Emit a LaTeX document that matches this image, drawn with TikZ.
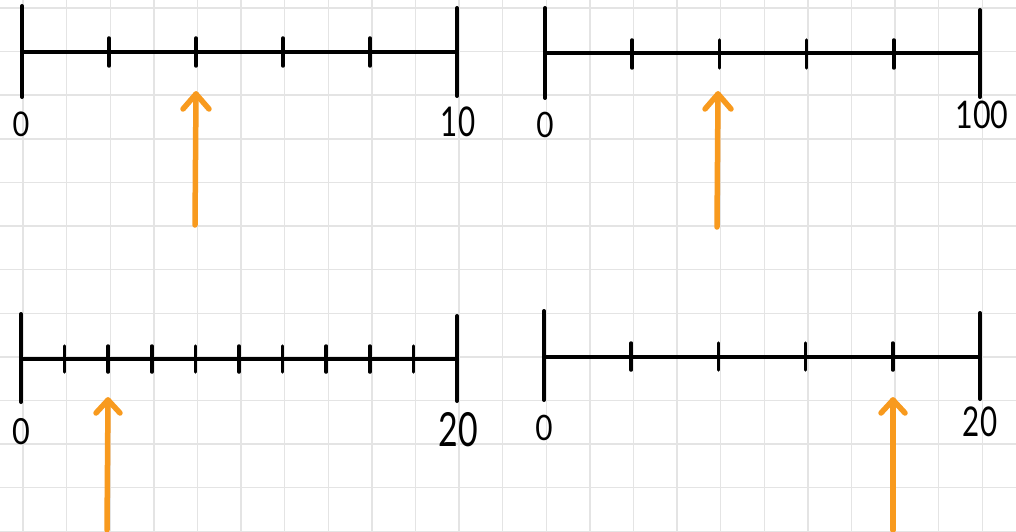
\documentclass[tikz,border=0pt]{standalone}
\usepackage{fontspec}
\setmainfont{Lato}
\definecolor{gridgray}{RGB}{228,228,228}
\definecolor{arrorange}{RGB}{248,154,30}
\tikzset{
  gridline/.style={draw=gridgray, line width=1.4pt},
  axisline/.style={draw=black, line width=4pt},
  endbar/.style={draw=black, line width=4pt, line cap=round},
  tickmark/.style={draw=black, line width=3.5pt, line cap=round},
  pointer/.style={draw=arrorange, line width=5.5pt, line cap=round, line join=round},
  numlabel/.style={inner sep=0pt, text=black}
}
\newcommand{\nlab}[3]{\fontsize{#1}{#1}\selectfont\scalebox{#2}[1]{#3}}
\begin{document}
\begin{tikzpicture}[x=1pt,y=-1pt]
\useasboundingbox (0,0) rectangle (1016,532);
\fill[white] (0,0) rectangle (1016,532);
% grid
\foreach \k in {0,...,22} { \draw[gridline] ({23+43.6*\k},0) -- ({23+43.6*\k},532); }
\foreach \k in {0,...,12} { \draw[gridline] (0,{8+43.6*\k}) -- (1016,{8+43.6*\k}); }

% ---------- top-left: 0 to 10 ----------
\coordinate (tlA) at (22,52);
\coordinate (tlB) at (457,52);
\draw[axisline] (tlA) -- (tlB);
\draw[endbar] (22,6) -- (22,97);
\draw[endbar] (457,8) -- (457,96);
\foreach \k in {1,...,4} { \draw[tickmark] ({22+87*\k},38) -- ({22+87*\k},66); }
\node[numlabel] (tl0) at (21,124) {\nlab{34pt}{0.85}{0}};
\node[numlabel] (tl10) at (458,122) {\nlab{41pt}{0.72}{10}};
\coordinate (tlTip) at (196,94);
\coordinate (tlTail) at (195,225);
\draw[pointer] (tlTail) -- (tlTip);
\draw[pointer] ([xshift=-13pt,yshift=-15pt]tlTip) -- (tlTip) -- ([xshift=13pt,yshift=-15pt]tlTip);

% ---------- top-right: 0 to 100 ----------
\coordinate (trA) at (545,53);
\coordinate (trB) at (981,53);
\draw[axisline] (trA) -- (trB);
\draw[endbar] (545,8) -- (545,98);
\draw[endbar] (980,10) -- (980,97);
\foreach \k in {1,...,4} { \draw[tickmark] ({545+87.2*\k},40) -- ({545+87.2*\k},68); }
\node[numlabel] (tr0) at (545,125) {\nlab{35pt}{0.85}{0}};
\node[numlabel] (tr100) at (982,115) {\nlab{38pt}{0.8}{100}};
\coordinate (trTip) at (718,94);
\coordinate (trTail) at (717,227);
\draw[pointer] (trTail) -- (trTip);
\draw[pointer] ([xshift=-13pt,yshift=-15pt]trTip) -- (trTip) -- ([xshift=13pt,yshift=-15pt]trTip);

% ---------- bottom-left: 0 to 20 ----------
\coordinate (blA) at (21,359);
\coordinate (blB) at (457,359);
\draw[axisline] (blA) -- (blB);
\draw[endbar] (21,314) -- (21,402);
\draw[endbar] (457,316) -- (457,401);
\foreach \k in {1,...,9} { \draw[tickmark] ({21+43.6*\k},346) -- ({21+43.6*\k},372); }
\node[numlabel] (bl0) at (21,432) {\nlab{36pt}{0.85}{0}};
\node[numlabel] (bl20) at (458,430) {\nlab{47pt}{0.72}{20}};
\coordinate (blTip) at (108,400);
\coordinate (blTail) at (107,530);
\draw[pointer] (blTail) -- (blTip);
\draw[pointer] ([xshift=-12pt,yshift=-13pt]blTip) -- (blTip) -- ([xshift=12pt,yshift=-13pt]blTip);

% ---------- bottom-right: 0 to 20 ----------
\coordinate (brA) at (544,357);
\coordinate (brB) at (980,357);
\draw[axisline] (brA) -- (brB);
\draw[endbar] (544,311) -- (544,400);
\draw[endbar] (980,313) -- (980,399);
\foreach \k in {1,...,4} { \draw[tickmark] ({544+87.2*\k},343) -- ({544+87.2*\k},370); }
\node[numlabel] (br0) at (544,428) {\nlab{35pt}{0.85}{0}};
\node[numlabel] (br20) at (980,422) {\nlab{41pt}{0.72}{20}};
\coordinate (brTip) at (893,400);
\coordinate (brTail) at (893,530);
\draw[pointer] (brTail) -- (brTip);
\draw[pointer] ([xshift=-12pt,yshift=-13pt]brTip) -- (brTip) -- ([xshift=12pt,yshift=-13pt]brTip);
\end{tikzpicture}
\end{document}
